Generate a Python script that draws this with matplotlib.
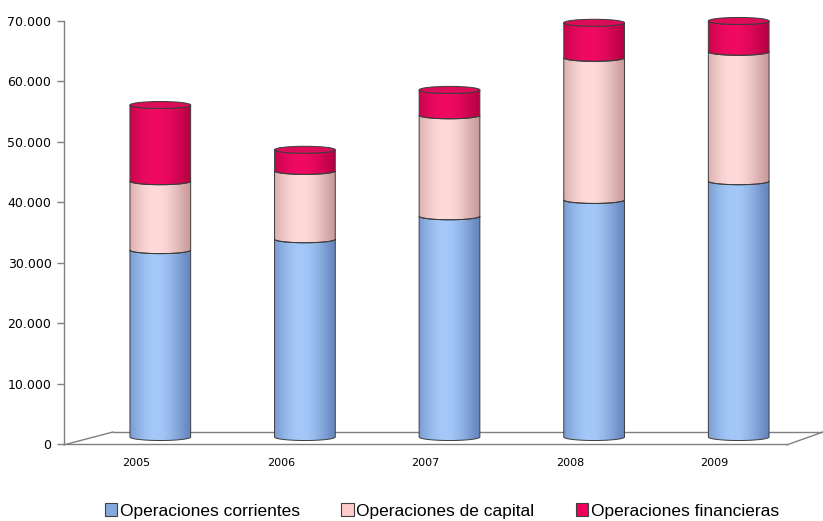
import numpy as np
import matplotlib
matplotlib.use("Agg")
import matplotlib.pyplot as plt
from matplotlib.path import Path
from matplotlib.patches import PathPatch, Ellipse, Patch
from matplotlib.colors import to_rgb
import matplotlib.transforms as mtransforms
from matplotlib.ticker import FuncFormatter

# ---- data ----
years = ["2005", "2006", "2007", "2008", "2009"]
corrientes = [30900, 32700, 36500, 39200, 42300]
capital = [11400, 11300, 16700, 23500, 21400]
financieras = [12600, 3500, 4200, 5800, 5100]
series_names = ["Operaciones corrientes", "Operaciones de capital", "Operaciones financieras"]
y_ticks = [0, 10000, 20000, 30000, 40000, 50000, 60000, 70000]

# ---- style ----
side_colors = [("#5F7FB8", "#A4C8F8"), ("#C49494", "#FFDADA"), ("#B0003F", "#F00A62")]
cap_colors = ["#9DBEF0", "#F7CACA", "#DC0C58"]
legend_colors = ["#86A9DD", "#FFCCCC", "#F0005A"]
edge = "#3c3c3c"

W, H = 823, 521
fig = plt.figure(figsize=(W / 100, H / 100), dpi=100)
ax = fig.add_axes([64 / W, (H - 444) / H, 723 / W, 423.3 / H])
ax.set_xlim(-0.5, len(years) - 0.5)
ax.set_ylim(0, 70000)

# depth offset of the bars (pixels)
tr = mtransforms.offset_copy(ax.transData, fig=fig, x=24, y=7, units="dots")

px_per_unit = 423.3 / 70000.0
eh = 7.0 / px_per_unit          # ellipse height in data units
bw = 0.42                       # bar width in category units


def gradient(dark, light, n=200):
    d = np.array(to_rgb(dark)); l = np.array(to_rgb(light))
    u = np.linspace(0, 1, n)
    f = np.clip(np.cos((u - 0.42) * np.pi / 1.25), 0, 1) ** 1.3
    return (d[None, :] + (l - d)[None, :] * f[:, None])[None, :, :]


def segment(xc, y0, y1, k, top):
    t = np.linspace(np.pi, 0, 60)
    xs = xc + bw / 2 * np.cos(t)
    top_arc = np.column_stack([xs, y1 - eh / 2 * np.sin(t)])
    bot_arc = np.column_stack([xs[::-1], y0 - eh / 2 * np.sin(t[::-1])])
    verts = np.vstack([top_arc, bot_arc, top_arc[:1]])
    path = Path(verts, closed=True)
    clip = PathPatch(path, transform=tr)
    im = ax.imshow(gradient(*side_colors[k]), extent=[xc - bw / 2, xc + bw / 2, y0 - eh, y1 + eh],
                   aspect="auto", transform=tr, interpolation="bilinear", zorder=2)
    im.set_clip_box(None)
    im.set_clip_path(clip)
    ax.add_patch(PathPatch(path, facecolor="none", edgecolor=edge, lw=0.7, transform=tr,
                           zorder=3, clip_on=False))
    if top:
        ax.add_patch(Ellipse((xc, y1), bw, eh, facecolor=cap_colors[k], edgecolor=edge, lw=0.7,
                             transform=tr, zorder=4, clip_on=False))


for i in range(len(years)):
    vals = [corrientes[i], capital[i], financieras[i]]
    base = 0
    for k, v in enumerate(vals):
        segment(i, base, base + v, k, top=(k == len(vals) - 1))
        base += v

ax.set_xlim(-0.5, len(years) - 0.5)
ax.set_ylim(0, 70000)

# axes styling
for s in ["top", "right"]:
    ax.spines[s].set_visible(False)
for s in ["left", "bottom"]:
    ax.spines[s].set_color("#808080")
    ax.spines[s].set_linewidth(1.0)
ax.set_yticks(y_ticks)
ax.yaxis.set_major_formatter(FuncFormatter(lambda v, p: f"{v:,.0f}".replace(",", ".")))
ax.tick_params(axis="y", length=5, width=1, color="#808080", labelsize=9, pad=4, labelcolor="#000000")
ax.set_xticks(range(len(years)))
ax.set_xticklabels(years)
ax.tick_params(axis="x", length=0, labelsize=8, pad=10)

# floor (3D depth lines)
floor_kw = dict(transform=ax.transAxes, color="#808080", lw=1.0, clip_on=False, zorder=1)
ax.plot([0, 0.0678], [-0.002, 0.0284], **floor_kw)
ax.plot([0.0678, 1.0498], [0.0284, 0.0284], **floor_kw)
ax.plot([1.0, 1.0498], [-0.002, 0.0284], **floor_kw)

# legend
handles = [Patch(facecolor=c, edgecolor="#404040", lw=0.8) for c in legend_colors]
fig.legend(handles, series_names, loc="center", bbox_to_anchor=(442 / W, 1 - 511 / H), ncol=3,
           frameon=False, prop={"family": ["Liberation Sans", "DejaVu Sans"], "size": 12.5},
           handlelength=0.7, handleheight=0.7, handletextpad=0.15, columnspacing=2.4)

fig.savefig("out.png", dpi=100)
